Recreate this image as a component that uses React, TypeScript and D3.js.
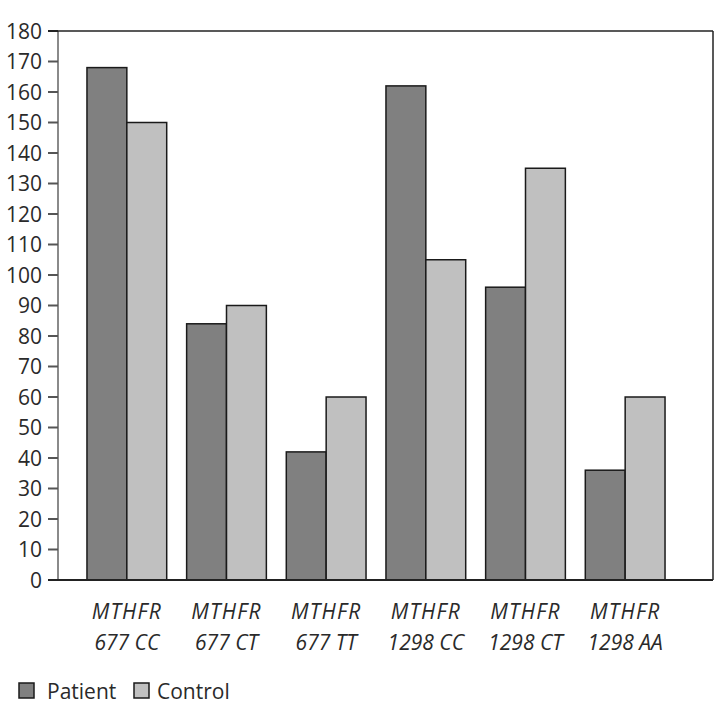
import React, { useEffect, useRef } from "react";
import * as d3 from "d3";

const genotypes = ["677 CC", "677 CT", "677 TT", "1298 CC", "1298 CT", "1298 AA"];
const seriesNames = ["Patient", "Control"];
const patient = [168, 84, 42, 162, 96, 36];
const control = [150, 90, 60, 105, 135, 60];
const yTicks = d3.range(0, 181, 10);
const colors = ["#808080", "#c0c0c0"];

const width = 714;
const height = 714;
const font = "'Open Sans', 'Noto Sans', sans-serif";

const App = () => {
  const ref = useRef<SVGSVGElement>(null);

  useEffect(() => {
    const svg = d3.select(ref.current);
    svg.selectAll("*").remove();

    const left = 58, right = 713, top = 31, bottom = 580;

    const y = d3.scaleLinear().domain([0, 180]).range([bottom, top]);
    const x0 = d3
      .scaleBand()
      .domain(genotypes)
      .range([77, 675])
      .paddingInner(0.2)
      .paddingOuter(0.1);
    const x1 = d3.scaleBand().domain(seriesNames).range([0, x0.bandwidth()]);

    const rows = genotypes.map((g, i) => ({ g, vals: [patient[i], control[i]] }));

    // frame
    svg.append("line")
      .attr("x1", left).attr("x2", left).attr("y1", top).attr("y2", bottom)
      .attr("stroke", "#8a8a8a").attr("stroke-width", 2);
    svg.append("line")
      .attr("x1", 48).attr("x2", right).attr("y1", top).attr("y2", top)
      .attr("stroke", "#222").attr("stroke-width", 1.5);
    svg.append("line")
      .attr("x1", right).attr("x2", right).attr("y1", top).attr("y2", bottom)
      .attr("stroke", "#222").attr("stroke-width", 1.5);

    // y ticks
    const yg = svg.append("g");
    yg.selectAll("line")
      .data(yTicks)
      .join("line")
      .attr("x1", 48).attr("x2", left)
      .attr("y1", (d) => y(d)).attr("y2", (d) => y(d))
      .attr("stroke", (d) => (d === 180 ? "#222" : "#555"))
      .attr("stroke-width", 2);
    yg.selectAll("text")
      .data(yTicks)
      .join("text")
      .attr("x", 42)
      .attr("y", (d) => y(d))
      .attr("dy", "0.36em")
      .attr("text-anchor", "end")
      .attr("font-family", font)
      .attr("font-size", 21)
      .attr("fill", "#2a2a2a")
      .text((d) => d);

    // bars
    svg.append("g")
      .selectAll("g")
      .data(rows)
      .join("g")
      .attr("transform", (d) => `translate(${x0(d.g)},0)`)
      .selectAll("rect")
      .data((d) => d.vals.map((v, j) => ({ key: seriesNames[j], v, j })))
      .join("rect")
      .attr("x", (d) => x1(d.key)!)
      .attr("width", x1.bandwidth())
      .attr("y", (d) => y(d.v))
      .attr("height", (d) => bottom - y(d.v))
      .attr("fill", (d) => colors[d.j])
      .attr("stroke", "#1a1a1a")
      .attr("stroke-width", 1.5);

    // x axis line
    svg.append("line")
      .attr("x1", 48).attr("x2", right).attr("y1", bottom).attr("y2", bottom)
      .attr("stroke", "#222").attr("stroke-width", 2);

    // x labels
    const xl = svg.append("g")
      .selectAll("text")
      .data(genotypes)
      .join("text")
      .attr("x", (d) => x0(d)! + x0.bandwidth() / 2)
      .attr("y", 619)
      .attr("text-anchor", "middle")
      .attr("font-family", font)
      .attr("font-style", "italic")
      .attr("font-size", 21)
      .attr("fill", "#2a2a2a");
    xl.append("tspan").attr("letter-spacing", 1.2).text("MTHFR");
    xl.append("tspan")
      .attr("x", (d) => x0(d)! + x0.bandwidth() / 2)
      .attr("dy", 31)
      .text((d) => d);

    // legend
    const legX = [19, 134];
    const lg = svg.append("g")
      .selectAll("g")
      .data(seriesNames)
      .join("g")
      .attr("transform", (d, i) => `translate(${legX[i]},683)`);
    lg.append("rect")
      .attr("width", 15).attr("height", 15)
      .attr("fill", (d, i) => colors[i])
      .attr("stroke", "#1a1a1a")
      .attr("stroke-width", 1.5);
    lg.append("text")
      .attr("x", (d, i) => (i === 0 ? 28 : 23))
      .attr("y", 8)
      .attr("dy", "0.36em")
      .attr("font-family", font)
      .attr("font-size", 21)
      .attr("fill", "#2a2a2a")
      .text((d) => d);
  }, []);

  return (
    <svg
      ref={ref}
      width={width}
      height={height}
      style={{ position: "absolute", left: 0, top: 0, background: "#fff" }}
    />
  );
};

export default App;
